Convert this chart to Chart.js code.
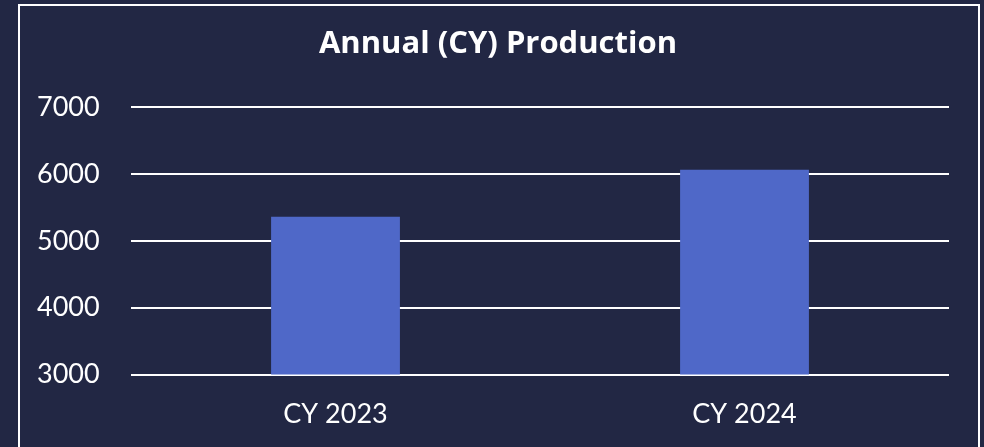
<!DOCTYPE html>
<html>
<head>
<meta charset="utf-8">
<script src="https://cdn.jsdelivr.net/npm/chart.js@4"></script>
<style>
  html, body { margin: 0; padding: 0; background: #222744; }
  #wrap { position: relative; width: 984px; height: 447px; overflow: hidden; }
  #frame {
    position: absolute; left: 18px; top: 4px; width: 962px; height: 470px;
    border: 2px solid #ffffff; box-sizing: border-box;
  }
  canvas { position: absolute; left: 0; top: 0; }
</style>
</head>
<body>
<div id="wrap">
  <div id="frame"></div>
  <canvas id="chart" width="984" height="447"></canvas>
</div>
<script>
const categories = ['CY 2023', 'CY 2024'];
const production = [5360, 6065];
const yTicks = [3000, 4000, 5000, 6000, 7000];

const ctx = document.getElementById('chart').getContext('2d');
const chart = new Chart(ctx, {
  type: 'bar',
  data: {
    labels: categories,
    datasets: [{
      label: 'Production',
      data: production,
      backgroundColor: '#4f68c8',
      borderWidth: 0,
      barPercentage: 0.315,
      categoryPercentage: 1
    }]
  },
  options: {
    responsive: false,
    animation: false,
    layout: { padding: { left: 47, right: 35, top: 0, bottom: 0 } },
    plugins: {
      legend: { display: false },
      tooltip: { enabled: false },
      title: {
        display: true,
        text: 'Annual (CY) Production',
        color: '#ffffff',
        font: { family: 'Open Sans', size: 31, weight: 'bold' },
        padding: { top: 26, bottom: 44 }
      }
    },
    scales: {
      x: {
        grid: { display: false, drawTicks: false },
        border: { display: false },
        afterFit: (scale) => { scale.height -= 6; },
        ticks: {
          color: '#ffffff',
          font: { family: 'Lato', size: 27 },
          padding: 23
        }
      },
      y: {
        min: yTicks[0],
        max: yTicks[yTicks.length - 1],
        afterBuildTicks: (scale) => { scale.ticks = yTicks.map(v => ({ value: v })); },
        afterFit: (scale) => { scale.width = 84; },
        grid: { color: '#ffffff', lineWidth: 2, drawTicks: false },
        border: { display: false },
        ticks: {
          color: '#ffffff',
          font: { family: 'Lato', size: 27 },
          mirror: true,
          padding: -94,
          callback: (v) => String(v)
        }
      }
    }
  }
});
</script>
</body>
</html>
